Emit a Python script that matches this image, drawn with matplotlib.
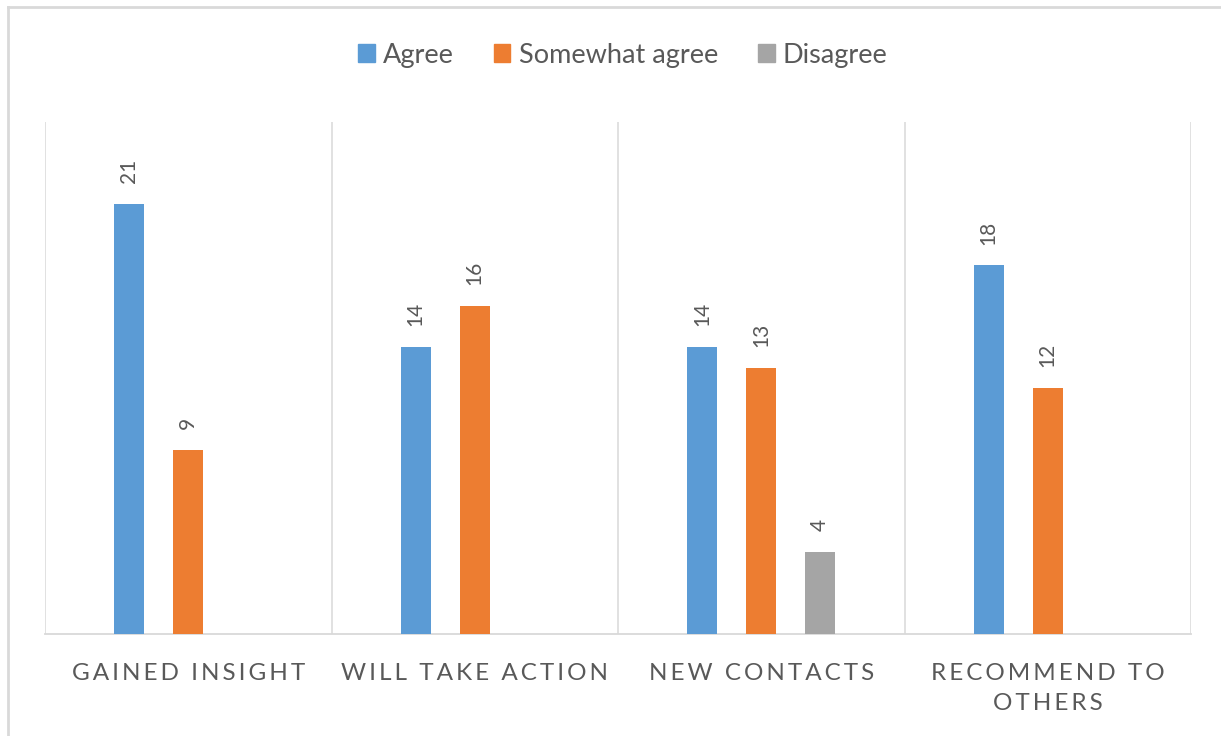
import matplotlib

matplotlib.use("Agg")
import matplotlib.pyplot as plt
import numpy as np
from matplotlib.patches import Patch
from matplotlib.lines import Line2D

categories = ["GAINED INSIGHT", "WILL TAKE ACTION", "NEW CONTACTS", "RECOMMEND TO\nOTHERS"]
series_names = ["Agree", "Somewhat agree", "Disagree"]
agree = [21, 14, 14, 18]
somewhat = [9, 16, 13, 12]
disagree = [None, None, 4, None]

colors = ["#5B9BD5", "#ED7D31", "#A5A5A5"]
text_col = "#595959"
grid_col = "#D9D9D9"

plt.rcParams["font.family"] = ["Lato", "DejaVu Sans"]


def spaced(s):
    # Excel-style letter spacing on category labels
    return "\n".join("\u2009".join(line) for line in s.split("\n"))


fig = plt.figure(figsize=(12.21, 7.36), dpi=100)
ax = fig.add_axes([45 / 1221, 1 - 634 / 736, (1191 - 45) / 1221, (634 - 122) / 736])

x = np.arange(len(categories))
width = 0.105
offset = 0.206
for i, (vals, col) in enumerate(zip([agree, somewhat, disagree], colors)):
    xs = [xi + (i - 1) * offset for xi, v in zip(x, vals) if v is not None]
    vs = [v for v in vals if v is not None]
    bars = ax.bar(xs, vs, width, color=col, zorder=3)
    for b, v in zip(bars, vs):
        ax.annotate(str(v), (b.get_x() + b.get_width() / 2, v), xytext=(0, 15),
                    textcoords="offset points", rotation=90, ha="center", va="bottom",
                    fontsize=15, color=text_col)

ax.set_xlim(-0.5, len(categories) - 0.5)
ax.set_ylim(0, 25)
ax.set_yticks([])
ax.set_xticks(x)
ax.set_xticklabels([spaced(c) for c in categories], fontsize=17.5, color=text_col,
                   linespacing=1.5)
ax.tick_params(axis="x", length=0, pad=21)
for s in ["top", "right", "left"]:
    ax.spines[s].set_visible(False)
ax.spines["bottom"].set_color(grid_col)
ax.spines["bottom"].set_linewidth(1.3)
for xv in np.arange(-0.5, len(categories), 1.0):
    ax.axvline(xv, color=grid_col, linewidth=1.1, zorder=1)

# outer chart border (top and left visible)
fig.add_artist(Line2D([8 / 1221, 8 / 1221], [0, 1 - 7 / 736], color=grid_col,
                      linewidth=2, transform=fig.transFigure))
fig.add_artist(Line2D([8 / 1221, 1], [1 - 7 / 736, 1 - 7 / 736], color=grid_col,
                      linewidth=2, transform=fig.transFigure))

handles = [Patch(color=c) for c in colors]
leg = fig.legend(handles, series_names, loc="center", bbox_to_anchor=(623 / 1221, 1 - 55 / 736),
                 ncol=3, frameon=False, fontsize=19.5, handlelength=0.6, handleheight=0.6,
                 handletextpad=0.3, columnspacing=1.5)
for t in leg.get_texts():
    t.set_color(text_col)

fig.savefig("out.png", dpi=100)
